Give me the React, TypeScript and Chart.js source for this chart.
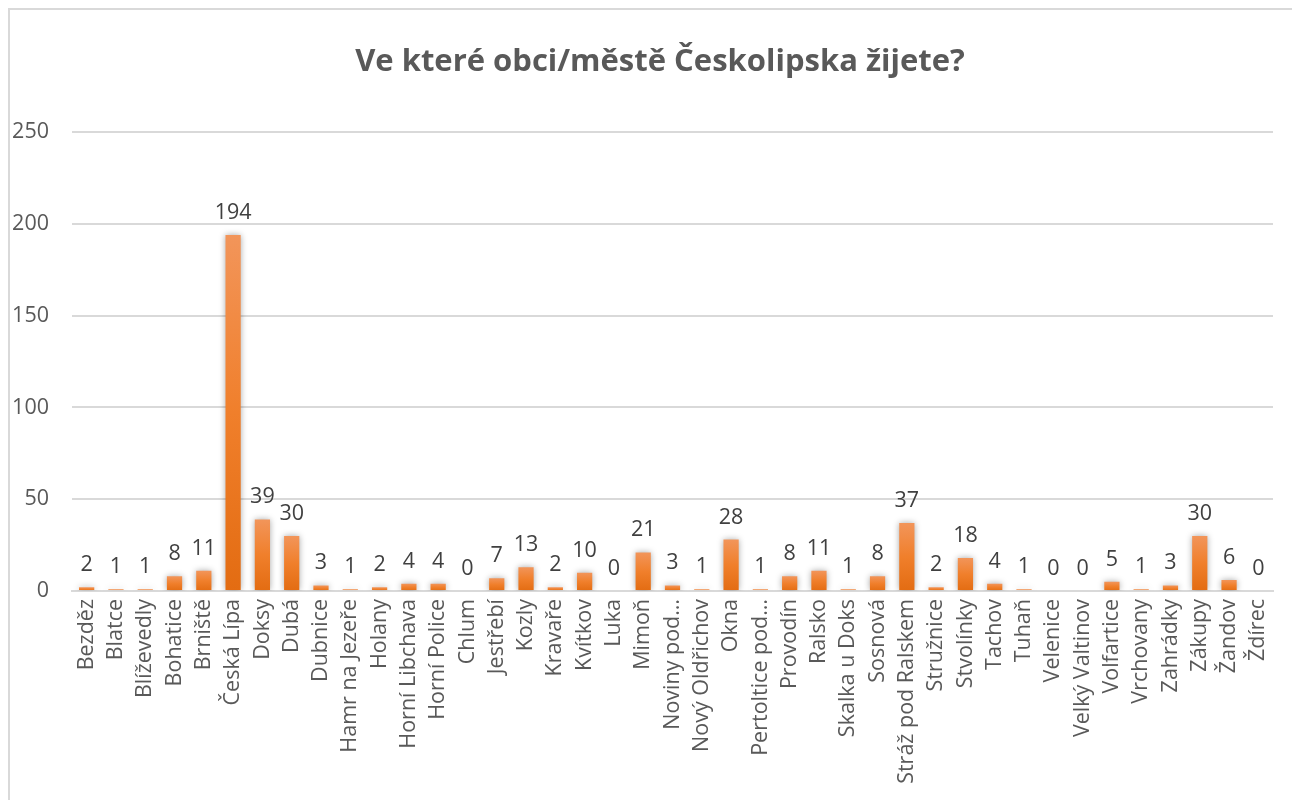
import React, { useEffect, useRef } from "react";
import { Chart, registerables } from "chart.js";

Chart.register(...registerables);

const categories: string[] = [
  "Bezděz", "Blatce", "Blíževedly", "Bohatice", "Brniště", "Česká Lípa", "Doksy", "Dubá",
  "Dubnice", "Hamr na Jezeře", "Holany", "Horní Libchava", "Horní Police", "Chlum", "Jestřebí",
  "Kozly", "Kravaře", "Kvítkov", "Luka", "Mimoň", "Noviny pod…", "Nový Oldřichov", "Okna",
  "Pertoltice pod…", "Provodín", "Ralsko", "Skalka u Doks", "Sosnová", "Stráž pod Ralskem",
  "Stružnice", "Stvolínky", "Tachov", "Tuhaň", "Velenice", "Velký Valtinov", "Volfartice",
  "Vrchovany", "Zahrádky", "Zákupy", "Žandov", "Ždírec",
];

const values: number[] = [
  2, 1, 1, 8, 11, 194, 39, 30,
  3, 1, 2, 4, 4, 0, 7,
  13, 2, 10, 0, 21, 3, 1, 28,
  1, 8, 11, 1, 8, 37,
  2, 18, 4, 1, 0, 0, 5,
  1, 3, 30, 6, 0,
];

const yTicks: number[] = [0, 50, 100, 150, 200, 250];
const titleText = "Ve které obci/městě Českolipska žijete?";

const FONT = "'Open Sans', 'DejaVu Sans', sans-serif";

const shadowPlugin = {
  id: "barShadow",
  beforeDatasetsDraw(chart: any) {
    const ctx = chart.ctx;
    ctx.save();
    ctx.shadowColor = "rgba(0,0,0,0.35)";
    ctx.shadowBlur = 6;
    ctx.shadowOffsetX = 0;
    ctx.shadowOffsetY = 0;
  },
  afterDatasetsDraw(chart: any) {
    chart.ctx.restore();
  },
};

const labelPlugin = {
  id: "valueLabels",
  afterDatasetsDraw(chart: any) {
    const ctx = chart.ctx;
    const meta = chart.getDatasetMeta(0);
    ctx.save();
    ctx.font = `21.5px ${FONT}`;
    ctx.fillStyle = "#404040";
    ctx.textAlign = "center";
    ctx.textBaseline = "alphabetic";
    meta.data.forEach((bar: any, i: number) => {
      const v = chart.data.datasets[0].data[i];
      ctx.fillText(String(v), bar.x, bar.y - 16);
    });
    ctx.restore();
  },
};

export default function App() {
  const ref = useRef<HTMLCanvasElement | null>(null);

  useEffect(() => {
    if (!ref.current) return;
    const chart = new Chart(ref.current, {
      type: "bar",
      data: {
        labels: categories,
        datasets: [
          {
            data: values,
            backgroundColor: (c: any) => {
              const chartObj = c.chart;
              const y = chartObj.scales?.y;
              if (!y || c.raw === undefined) return "#ED7D31";
              const top = y.getPixelForValue(c.raw);
              const bottom = y.getPixelForValue(0);
              if (!isFinite(top) || !isFinite(bottom) || bottom - top < 1) return "#ED7D31";
              const g = chartObj.ctx.createLinearGradient(0, top, 0, bottom);
              g.addColorStop(0, "#F2955A");
              g.addColorStop(0.5, "#F07F2B");
              g.addColorStop(1, "#E36C12");
              return g;
            },
            borderWidth: 0,
            barPercentage: 0.52,
            categoryPercentage: 1,
          },
        ],
      },
      options: {
        responsive: false,
        animation: false,
        layout: { padding: { left: 0, right: 0, top: 0, bottom: 0 } },
        plugins: {
          legend: { display: false },
          tooltip: { enabled: false },
          title: {
            display: true,
            text: titleText,
            color: "#595959",
            font: { family: FONT, size: 31, weight: "bold" },
            padding: { top: 34, bottom: 51 },
          },
        },
        scales: {
          x: {
            grid: { display: false, drawTicks: false },
            border: { display: true, color: "#d9d9d9", width: 2 },
            ticks: {
              color: "#595959",
              font: { family: FONT, size: 21.5 },
              minRotation: 90,
              maxRotation: 90,
              autoSkip: false,
              padding: 8,
            },
            afterFit(scale: any) {
              scale.height = 219;
            },
          },
          y: {
            min: 0,
            max: 250,
            afterBuildTicks(scale: any) {
              scale.ticks = yTicks.map((v) => ({ value: v }));
            },
            grid: { color: "#d9d9d9", lineWidth: 2, drawTicks: false },
            border: { display: false },
            ticks: {
              color: "#595959",
              font: { family: FONT, size: 21.5 },
              padding: 23,
            },
            afterFit(scale: any) {
              scale.width = 62;
            },
          },
          yRight: {
            position: "right",
            display: true,
            min: 0,
            max: 250,
            grid: { display: false, drawTicks: false },
            border: { display: false },
            ticks: { display: false },
            afterFit(scale: any) {
              scale.width = 37;
            },
          },
        },
      },
      plugins: [shadowPlugin, labelPlugin],
    });
    return () => chart.destroy();
  }, []);

  return (
    <div style={{ width: 1310, border: "2px solid #d9d9d9", borderRight: "none", background: "#fff", boxSizing: "content-box" }}>
      <canvas ref={ref} width={1300} height={800} style={{ display: "block", width: 1300, height: 800 }} />
    </div>
  );
}
